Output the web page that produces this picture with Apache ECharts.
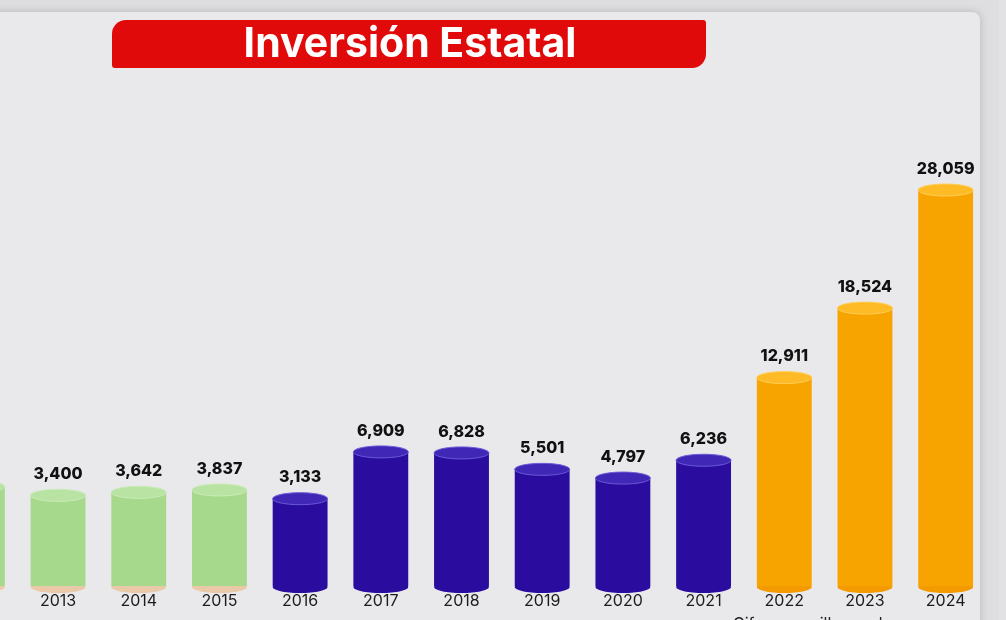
<!DOCTYPE html>
<html>
<head>
<meta charset="utf-8">
<script src="https://cdn.jsdelivr.net/npm/echarts@6/dist/echarts.min.js"></script>
<style>
  html, body { margin: 0; padding: 0; background: #dedee0; overflow: hidden; width: 1006px; height: 620px; }
  /* el lienzo sobresale 63px a la izquierda para que 2012 quede cortado */
  #chart { width: 1069px; height: 620px; margin-left: -63px; }
</style>
</head>
<body>
<div id="chart"></div>
<script>
// datos (millones), 2012 queda cortado en el borde izquierdo
const years = ['2012', '2013', '2014', '2015', '2016', '2017', '2018', '2019', '2020', '2021', '2022', '2023', '2024'];
const values = [4100, 3400, 3642, 3837, 3133, 6909, 6828, 5501, 4797, 6236, 12911, 18524, 28059];
const periods = ['g', 'g', 'g', 'g', 'b', 'b', 'b', 'b', 'b', 'b', 'o', 'o', 'o'];
const titleText = 'Inversión Estatal';
const noteText = 'Cifras en millones de pesos';

const palette = {
    g: { body: '#a6d98c', top: '#b8e3a2', edge: '#caecb9', foot: '#e9c9a8' },
    b: { body: '#2a0c9e', top: '#4127b6', edge: '#6b5bd8', foot: '#2a0c9e' },
    o: { body: '#f7a300', top: '#ffbb25', edge: '#ffcf5a', foot: '#f29a00' }
};
const yMin = -4000, yMax = 30000;
const font = 'Inter, "Noto Sans", sans-serif';
const dx = 63; // desplazamiento del lienzo

// cilindro: cuerpo desde la base del grid hasta el valor
function renderCylinder(params, api) {
    const i = api.value(0);
    const v = api.value(1);
    const top = api.coord([i, v]);
    const base = api.coord([i, yMin]);
    const w = api.size([1, 0])[0] * 0.68;
    const rx = w / 2, ry = 6;
    const c = palette[periods[params.dataIndex]];
    return {
        type: 'group',
        children: [
            { type: 'ellipse', shape: { cx: top[0], cy: base[1], rx: rx, ry: ry }, style: { fill: c.foot } },
            { type: 'rect', shape: { x: top[0] - rx, y: top[1], width: w, height: base[1] - top[1] - 1 }, style: { fill: c.body } },
            { type: 'ellipse', shape: { cx: top[0], cy: top[1], rx: rx, ry: ry }, style: { fill: c.top, stroke: c.edge, lineWidth: 1 } },
            {
                type: 'text', x: top[0], y: top[1] - 13,
                style: {
                    text: values[params.dataIndex].toLocaleString('en-US'),
                    fill: '#111', font: '800 16px ' + font,
                    align: 'center', verticalAlign: 'bottom'
                }
            }
        ]
    };
}

const chart = echarts.init(document.getElementById('chart'));
chart.setOption({
    backgroundColor: '#dedee0',
    animation: false,
    graphic: [
        { type: 'rect', z: -10, shape: { x: 0, y: 12, width: 980 + dx, height: 660, r: 8 },
          style: { fill: '#e9e9eb', shadowBlur: 8, shadowColor: 'rgba(0,0,0,0.18)' } },
        { type: 'rect', z: -10, shape: { x: 999 + dx, y: 0, width: 7, height: 620 }, style: { fill: '#e2e2e4' } },
        { type: 'rect', z: 5, shape: { x: 112 + dx, y: 20, width: 594, height: 48, r: [14, 3, 14, 3] },
          style: { fill: '#e10a0a' } },
        { type: 'text', z: 6, x: 410 + dx, y: 45,
          style: { text: titleText, fill: '#ffffff', font: '700 41px ' + font, align: 'center', verticalAlign: 'middle' } },
        { type: 'text', z: 6, x: 733 + dx, y: 616,
          style: { text: noteText, fill: '#222', font: '16px ' + font, align: 'left', verticalAlign: 'top' } }
    ],
    grid: { left: 0, right: 20, top: 166, bottom: 33 },
    xAxis: {
        type: 'category',
        data: years,
        axisLine: { show: false },
        axisTick: { show: false },
        axisLabel: { color: '#1c1c1c', fontSize: 16, fontFamily: font, margin: 6, interval: 0 }
    },
    yAxis: {
        type: 'value', min: yMin, max: yMax, show: false, splitLine: { show: false }
    },
    series: [{
        type: 'custom',
        renderItem: renderCylinder,
        encode: { x: 0, y: 1 },
        data: values.map((v, i) => [i, v])
    }]
});
</script>
</body>
</html>
